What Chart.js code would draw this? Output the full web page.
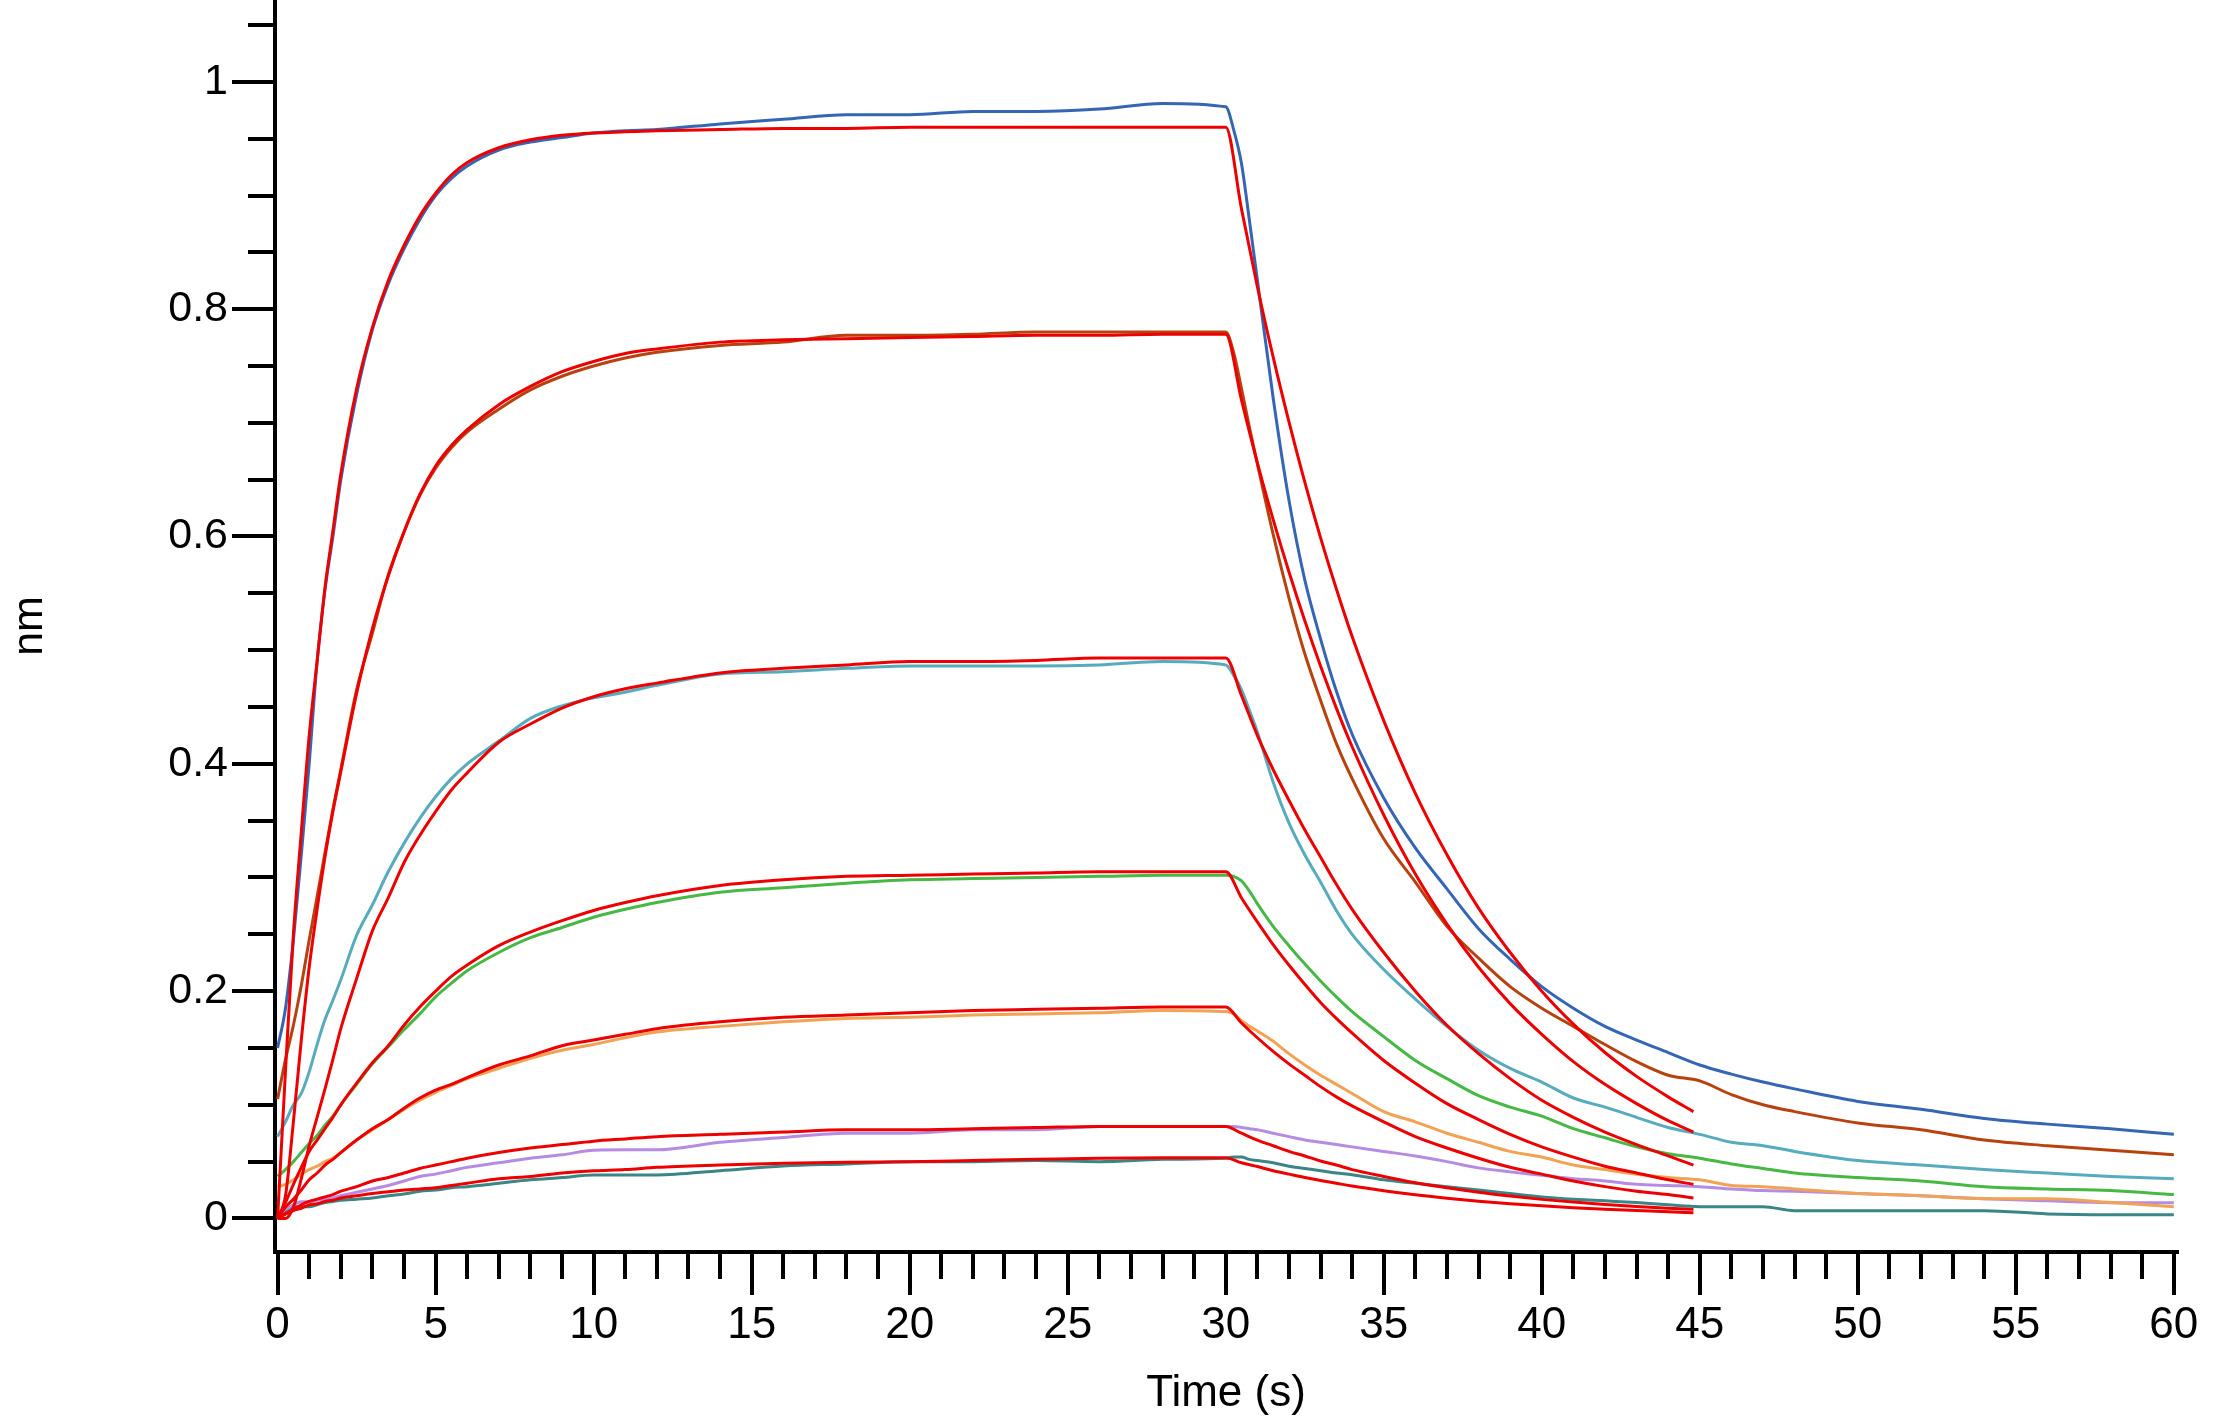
<!DOCTYPE html>
<html>
<head>
<meta charset="utf-8">
<script src="https://cdn.jsdelivr.net/npm/chart.js@4.4.1/dist/chart.umd.min.js"></script>
<style>
html,body{margin:0;padding:0;background:#ffffff;}
#wrap{width:2232px;height:1422px;}
</style>
</head>
<body>
<div id="wrap"><canvas id="c" width="2232" height="1422"></canvas></div>
<script>
// ---------- time grids (s) ----------
const T_DATA = [0, 0.25, 0.5, 0.75, 1, 1.25, 1.5, 1.75, 2, 2.5,
  3, 3.5, 4, 4.5, 5, 5.5, 6, 7, 8, 9,
  10, 11, 12, 14, 16, 18, 20, 22, 24, 26,
  28, 30, 30.25, 30.5, 30.75, 31, 31.5, 32, 32.5, 33,
  33.5, 34, 35, 36, 37, 38, 39, 40, 41, 42,
  43, 44, 45, 46, 47, 48, 50, 52, 54, 56,
  58, 60];
const T_FIT = [0, 0.25, 0.5, 0.75, 1, 1.25, 1.5, 1.75, 2, 2.5,
  3, 3.5, 4, 4.5, 5, 5.5, 6, 7, 8, 9,
  10, 11, 12, 14, 16, 18, 20, 22, 24, 26,
  28, 30, 30.5, 31, 31.5, 32, 32.5, 33, 33.5, 34,
  35, 36, 37, 38, 39, 40, 41, 42, 43, 44,
  44.8];

// ---------- measured response (nm) ----------
const dataBlue = [0.15, 0.185, 0.245, 0.32, 0.40, 0.49, 0.553, 0.60, 0.65, 0.725,
  0.782, 0.822, 0.853, 0.879, 0.90, 0.915, 0.926, 0.94, 0.947, 0.951,
  0.955, 0.957, 0.958, 0.963, 0.967, 0.971, 0.971, 0.974, 0.974, 0.976,
  0.981, 0.978, 0.958, 0.928, 0.878, 0.826, 0.722, 0.632, 0.562, 0.51,
  0.464, 0.426, 0.37, 0.326, 0.29, 0.255, 0.228, 0.204, 0.185, 0.169,
  0.157, 0.146, 0.135, 0.127, 0.12, 0.114, 0.103, 0.096, 0.088, 0.083,
  0.079, 0.074];
const dataBrown = [0.105, 0.14, 0.17, 0.205, 0.245, 0.283, 0.322, 0.36, 0.395, 0.465,
  0.515, 0.566, 0.604, 0.636, 0.66, 0.678, 0.692, 0.712, 0.729, 0.741,
  0.75, 0.757, 0.762, 0.768, 0.771, 0.777, 0.777, 0.778, 0.78, 0.78,
  0.78, 0.78, 0.762, 0.73, 0.696, 0.664, 0.602, 0.546, 0.497, 0.456,
  0.418, 0.387, 0.334, 0.296, 0.257, 0.229, 0.204, 0.185, 0.169, 0.153,
  0.138, 0.126, 0.121, 0.109, 0.1, 0.094, 0.084, 0.078, 0.069, 0.064,
  0.06, 0.056];
const dataCyan = [0.072, 0.085, 0.1, 0.11, 0.129, 0.153, 0.175, 0.192, 0.21, 0.249,
  0.276, 0.305, 0.33, 0.352, 0.371, 0.387, 0.40, 0.42, 0.44, 0.451,
  0.458, 0.463, 0.469, 0.479, 0.481, 0.484, 0.486, 0.486, 0.486, 0.487,
  0.49, 0.487, 0.478, 0.465, 0.447, 0.428, 0.384, 0.348, 0.32, 0.296,
  0.271, 0.25, 0.219, 0.193, 0.169, 0.148, 0.132, 0.12, 0.106, 0.098,
  0.089, 0.08, 0.074, 0.067, 0.064, 0.059, 0.051, 0.047, 0.043, 0.04,
  0.037, 0.035];
const dataGreen = [0.037, 0.043, 0.05, 0.058, 0.066, 0.073, 0.082, 0.09, 0.10, 0.118,
  0.136, 0.151, 0.166, 0.18, 0.195, 0.207, 0.218, 0.234, 0.247, 0.256,
  0.265, 0.272, 0.278, 0.287, 0.291, 0.295, 0.298, 0.299, 0.30, 0.301,
  0.302, 0.302, 0.301, 0.297, 0.288, 0.277, 0.257, 0.24, 0.224, 0.209,
  0.195, 0.182, 0.16, 0.139, 0.123, 0.108, 0.098, 0.09, 0.079, 0.071,
  0.063, 0.057, 0.053, 0.048, 0.044, 0.04, 0.036, 0.033, 0.028, 0.026,
  0.0245, 0.021];
const dataOrange = [0.028, 0.03, 0.034, 0.039, 0.043, 0.046, 0.05, 0.053, 0.058, 0.069,
  0.078, 0.087, 0.096, 0.104, 0.111, 0.117, 0.123, 0.132, 0.141, 0.148,
  0.153, 0.159, 0.164, 0.169, 0.173, 0.176, 0.177, 0.179, 0.18, 0.181,
  0.183, 0.182, 0.18, 0.174, 0.169, 0.165, 0.156, 0.145, 0.135, 0.126,
  0.118, 0.11, 0.094, 0.085, 0.075, 0.067, 0.059, 0.054, 0.047, 0.043,
  0.039, 0.036, 0.034, 0.029, 0.028, 0.026, 0.022, 0.02, 0.0174, 0.0174,
  0.014, 0.0104];
const dataPurple = [0.005, 0.008, 0.012, 0.0147, 0.0147, 0.016, 0.017, 0.018, 0.02, 0.023,
  0.026, 0.029, 0.033, 0.037, 0.039, 0.042, 0.045, 0.049, 0.053, 0.056,
  0.06, 0.0604, 0.0604, 0.067, 0.0712, 0.075, 0.075, 0.078, 0.078, 0.081,
  0.081, 0.081, 0.081, 0.08, 0.079, 0.078, 0.075, 0.072, 0.069, 0.067,
  0.065, 0.063, 0.059, 0.055, 0.05, 0.0445, 0.041, 0.038, 0.035, 0.033,
  0.03, 0.029, 0.028, 0.026, 0.0245, 0.024, 0.022, 0.02, 0.0174, 0.0155,
  0.0139, 0.0139];
const dataTeal = [0.0, 0.005, 0.0103, 0.0103, 0.0103, 0.012, 0.014, 0.015, 0.016, 0.017,
  0.018, 0.02, 0.0215, 0.024, 0.025, 0.027, 0.028, 0.031, 0.034, 0.036,
  0.0383, 0.0383, 0.0383, 0.042, 0.0462, 0.048, 0.05, 0.05, 0.051, 0.05,
  0.052, 0.053, 0.054, 0.054, 0.052, 0.051, 0.049, 0.046, 0.044, 0.042,
  0.04, 0.0385, 0.034, 0.031, 0.028, 0.025, 0.022, 0.019, 0.017, 0.0155,
  0.014, 0.012, 0.0104, 0.0104, 0.0104, 0.0069, 0.0069, 0.0069, 0.0069, 0.004,
  0.0033, 0.0033];

// ---------- fitted curves (nm) ----------
const fit1 = [0, 0.13, 0.25, 0.34, 0.425, 0.49, 0.555, 0.605, 0.655, 0.73,
  0.784, 0.825, 0.856, 0.882, 0.902, 0.918, 0.929, 0.942, 0.949, 0.953,
  0.955, 0.956, 0.957, 0.958, 0.959, 0.959, 0.96, 0.96, 0.96, 0.96,
  0.96, 0.96, 0.888, 0.82, 0.758, 0.701, 0.648, 0.599, 0.554, 0.512,
  0.438, 0.374, 0.32, 0.273, 0.234, 0.2, 0.171, 0.146, 0.125, 0.107,
  0.094];
const fit2 = [0, 0.02, 0.085, 0.157, 0.221, 0.272, 0.318, 0.358, 0.393, 0.462,
  0.519, 0.565, 0.604, 0.637, 0.662, 0.68, 0.694, 0.716, 0.732, 0.745,
  0.754, 0.761, 0.765, 0.771, 0.773, 0.774, 0.775, 0.776, 0.777, 0.777,
  0.778, 0.778, 0.72, 0.665, 0.615, 0.569, 0.526, 0.486, 0.449, 0.415,
  0.355, 0.303, 0.259, 0.221, 0.189, 0.162, 0.138, 0.118, 0.101, 0.086,
  0.076];
const fit3 = [0, 0.0, 0.01, 0.035, 0.064, 0.089, 0.114, 0.14, 0.167, 0.211,
  0.253, 0.282, 0.313, 0.337, 0.358, 0.377, 0.392, 0.419, 0.435, 0.449,
  0.459, 0.466, 0.471, 0.48, 0.484, 0.487, 0.49, 0.49, 0.491, 0.493,
  0.493, 0.493, 0.46, 0.425, 0.395, 0.368, 0.342, 0.318, 0.294, 0.272,
  0.234, 0.2, 0.17, 0.145, 0.123, 0.104, 0.089, 0.076, 0.065, 0.055,
  0.047];
const fit4 = [0, 0.014, 0.03, 0.045, 0.059, 0.069, 0.079, 0.089, 0.10, 0.119,
  0.137, 0.152, 0.17, 0.186, 0.2, 0.213, 0.223, 0.24, 0.252, 0.262,
  0.271, 0.278, 0.284, 0.293, 0.298, 0.301, 0.302, 0.303, 0.304, 0.305,
  0.305, 0.305, 0.282, 0.261, 0.241, 0.223, 0.206, 0.19, 0.176, 0.163,
  0.139, 0.119, 0.101, 0.087, 0.074, 0.063, 0.054, 0.046, 0.04, 0.034,
  0.03];
const fit5 = [0, 0.01, 0.017, 0.025, 0.034, 0.04, 0.047, 0.052, 0.058, 0.069,
  0.079, 0.087, 0.097, 0.106, 0.113, 0.118, 0.124, 0.135, 0.143, 0.152,
  0.157, 0.162, 0.167, 0.173, 0.177, 0.179, 0.181, 0.183, 0.184, 0.185,
  0.186, 0.186, 0.172, 0.159, 0.147, 0.136, 0.126, 0.116, 0.107, 0.099,
  0.085, 0.072, 0.062, 0.053, 0.045, 0.039, 0.033, 0.028, 0.024, 0.021,
  0.018];
const fit6 = [0, 0.004, 0.008, 0.012, 0.015, 0.017, 0.019, 0.021, 0.024, 0.028,
  0.033, 0.036, 0.04, 0.044, 0.047, 0.05, 0.053, 0.058, 0.062, 0.065,
  0.068, 0.07, 0.072, 0.074, 0.076, 0.078, 0.078, 0.079, 0.08, 0.081,
  0.081, 0.081, 0.075, 0.069, 0.064, 0.059, 0.055, 0.0506, 0.047, 0.043,
  0.037, 0.0315, 0.027, 0.023, 0.0197, 0.0168, 0.0144, 0.0123, 0.0105, 0.009,
  0.008];
const fit7 = [0, 0.004, 0.007, 0.009, 0.012, 0.013, 0.015, 0.016, 0.018, 0.02,
  0.022, 0.0235, 0.025, 0.026, 0.027, 0.029, 0.031, 0.035, 0.037, 0.04,
  0.042, 0.043, 0.045, 0.047, 0.0485, 0.0495, 0.05, 0.051, 0.052, 0.053,
  0.0535, 0.0535, 0.049, 0.0457, 0.042, 0.039, 0.036, 0.0334, 0.031, 0.0285,
  0.0244, 0.0208, 0.0178, 0.0152, 0.013, 0.0111, 0.0095, 0.0081, 0.007, 0.006,
  0.005];

// ---------- axis ticks ----------
const X_MAJOR = [0, 5, 10, 15, 20, 25, 30, 35, 40, 45, 50, 55, 60];
const X_MINOR = [1, 2, 3, 4, 6, 7, 8, 9, 11, 12, 13, 14, 16, 17, 18, 19, 21, 22, 23, 24,
  26, 27, 28, 29, 31, 32, 33, 34, 36, 37, 38, 39, 41, 42, 43, 44, 46, 47, 48, 49,
  51, 52, 53, 54, 56, 57, 58, 59];
const Y_MAJOR = [0, 0.2, 0.4, 0.6, 0.8, 1];
const Y_MINOR = [0.05, 0.1, 0.15, 0.25, 0.3, 0.35, 0.45, 0.5, 0.55, 0.65, 0.7, 0.75, 0.85, 0.9, 0.95, 1.05];

const X_MIN = -0.082, X_MAX = 60.10;
const Y_MIN = -0.0295, Y_MAX = 1.072;

const REG = "'Liberation Sans', Arial, Helvetica, sans-serif";
const MAJOR_LEN = 43, MINOR_LEN = 27, AXIS_W = 4;

const pts = (ts, vs) => ts.map((t, i) => ({x: t, y: vs[i]}));

const SERIES = [
  {data: dataBlue,   color: '#3565b5'},
  {data: dataBrown,  color: '#b8420f'},
  {data: dataCyan,   color: '#56abbd'},
  {data: dataGreen,  color: '#46b844'},
  {data: dataOrange, color: '#f2a253'},
  {data: dataPurple, color: '#b68be3'},
  {data: dataTeal,   color: '#3a8585'}
];
const FITS = [fit1, fit2, fit3, fit4, fit5, fit6, fit7];
const FIT_COLOR = '#ee0000';

const datasets = [];
SERIES.forEach(s => datasets.push({
  data: pts(T_DATA, s.data), borderColor: s.color, borderWidth: 3,
  pointRadius: 0, fill: false, cubicInterpolationMode: 'monotone', order: 1
}));
FITS.forEach(f => datasets.push({
  data: pts(T_FIT, f), borderColor: FIT_COLOR, borderWidth: 3,
  pointRadius: 0, fill: false, cubicInterpolationMode: 'monotone', order: 0
}));

const minorTicks = {
  id: 'minorTicks',
  afterDraw(chart) {
    const {ctx, chartArea, scales} = chart;
    const x = scales.x, y = scales.y;
    ctx.save();
    ctx.strokeStyle = '#000';
    ctx.lineWidth = AXIS_W;
    ctx.lineCap = 'butt';
    ctx.beginPath();
    X_MINOR.forEach(v => {
      const px = Math.round(x.getPixelForValue(v));
      ctx.moveTo(px, chartArea.bottom);
      ctx.lineTo(px, chartArea.bottom + MINOR_LEN);
    });
    Y_MINOR.forEach(v => {
      const py = Math.round(y.getPixelForValue(v));
      ctx.moveTo(chartArea.left, py);
      ctx.lineTo(chartArea.left - MINOR_LEN, py);
    });
    ctx.stroke();
    ctx.restore();
  }
};

const gridOpts = {
  display: true, drawOnChartArea: false, drawTicks: true,
  tickLength: MAJOR_LEN, tickWidth: AXIS_W, tickColor: '#000',
  lineWidth: AXIS_W, color: '#000'
};

new Chart(document.getElementById('c'), {
  type: 'line',
  data: {datasets},
  options: {
    responsive: false,
    animation: false,
    devicePixelRatio: 1,
    layout: {padding: {top: 0, left: 0, right: 55, bottom: 0}},
    plugins: {legend: {display: false}, tooltip: {enabled: false}},
    scales: {
      x: {
        type: 'linear', min: X_MIN, max: X_MAX,
        afterBuildTicks: s => { s.ticks = X_MAJOR.map(v => ({value: v})); },
        afterFit: s => { s.height = 170; s.paddingLeft = 0; s.paddingRight = 0; },
        grid: gridOpts,
        border: {display: true, color: '#000', width: AXIS_W},
        ticks: {color: '#000', font: {family: REG, size: 44}, padding: 4,
                maxRotation: 0, autoSkip: false, callback: v => String(v)},
        title: {display: true, text: 'Time (s)', color: '#000',
                font: {family: REG, size: 44}, padding: {top: 0, bottom: 2}}
      },
      y: {
        type: 'linear', min: Y_MIN, max: Y_MAX,
        afterBuildTicks: s => { s.ticks = Y_MAJOR.map(v => ({value: v})); },
        afterFit: s => { s.width = 275; s.paddingTop = 0; s.paddingBottom = 0; },
        grid: gridOpts,
        border: {display: true, color: '#000', width: AXIS_W},
        ticks: {color: '#000', font: {family: REG, size: 43}, padding: 4,
                callback: v => String(Math.round(v * 10) / 10)},
        title: {display: true, text: 'nm', color: '#000',
                font: {family: REG, size: 43}, padding: {top: 4, bottom: 0}}
      }
    }
  },
  plugins: [minorTicks]
});
</script>
</body>
</html>
